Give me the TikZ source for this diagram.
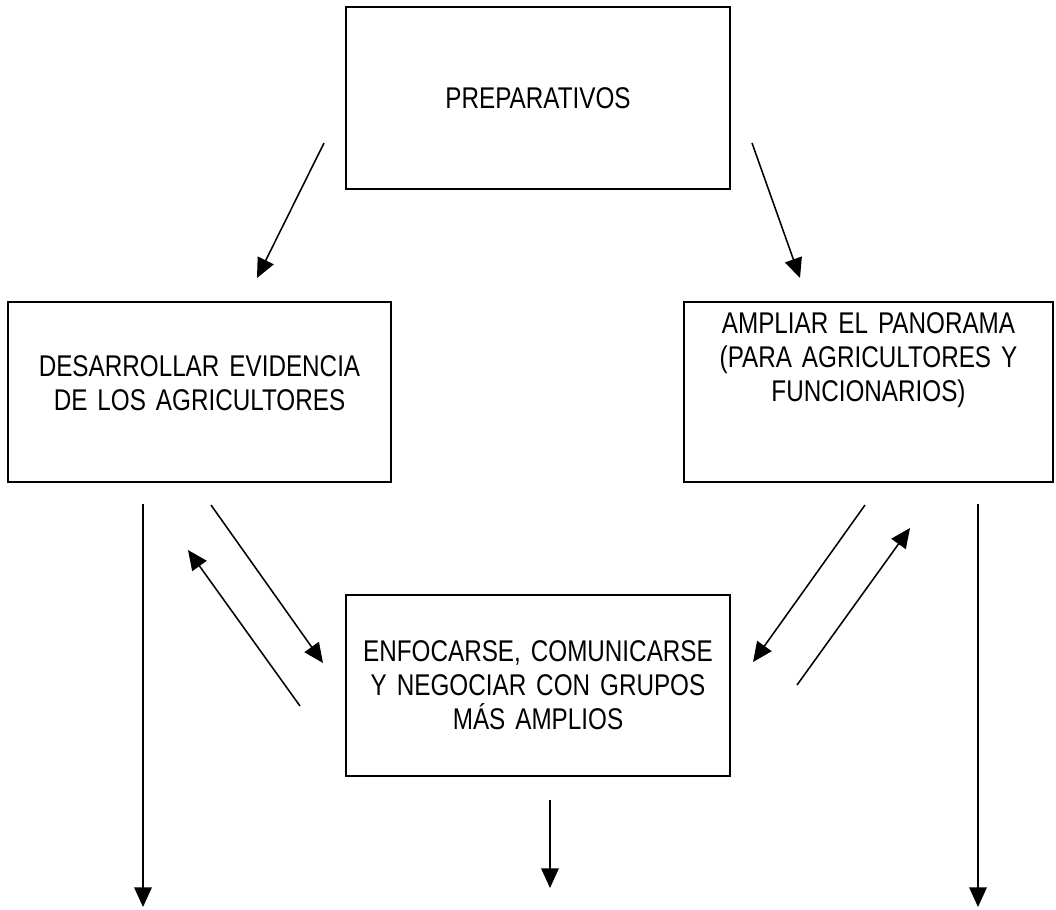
\documentclass[tikz,border=0pt]{standalone}
\usepackage{fontspec}
\setmainfont{Liberation Sans}[FakeStretch=0.81]
\usepackage{tikz}
\usetikzlibrary{arrows.meta}
\tikzset{
  box/.style  = {draw, rectangle, line width=1.3pt, inner sep=0pt, align=center,
                 text width=8.8cm, font=\fontsize{21.3pt}{24.2pt}\selectfont},
  flow/.style = {-{Triangle[length=14pt,width=12.5pt]}, line width=1.1pt}
}
\begin{document}
\begin{tikzpicture}[x=0.025cm, y=-0.025cm]
    \useasboundingbox (0,0) rectangle (1056,909);
    \node[box, minimum width=9.6cm, minimum height=4.55cm] (P) at (538,98) {PREPARATIVOS};
    \node[box, minimum width=9.575cm, minimum height=4.5cm] (E) at (199.5,392)
        {DESARROLLAR EVIDENCIA\\DE LOS AGRICULTORES\\[-11pt]\mbox{}};
    \node[box, minimum width=9.225cm, minimum height=4.5cm] (A) at (868.5,392)
        {AMPLIAR EL PANORAMA\\(PARA AGRICULTORES Y\\FUNCIONARIOS)\\[25pt]\mbox{}};
    \node[box, minimum width=9.6cm, minimum height=4.525cm] (G) at (538,685.5)
        {ENFOCARSE, COMUNICARSE\\Y NEGOCIAR CON GRUPOS\\MÁS AMPLIOS};
    % arrow ends
    \coordinate (p1) at (324,143);  \coordinate (p2) at (257,278);
    \coordinate (p3) at (752,143);  \coordinate (p4) at (800,278);
    \coordinate (e1) at (211,505);  \coordinate (e2) at (323,663);
    \coordinate (e3) at (300,706);  \coordinate (e4) at (188,550);
    \coordinate (a1) at (865,505);  \coordinate (a2) at (753,662);
    \coordinate (a3) at (797,685);  \coordinate (a4) at (910,528);
    \coordinate (v1) at (143,504);  \coordinate (v2) at (143,907);
    \coordinate (v3) at (550,800);  \coordinate (v4) at (550,888);
    \coordinate (v5) at (978,504);  \coordinate (v6) at (978,907);
    \draw[flow] (p1) -- (p2);
    \draw[flow] (p3) -- (p4);
    \draw[flow] (e1) -- (e2);
    \draw[flow] (e3) -- (e4);
    \draw[flow] (a1) -- (a2);
    \draw[flow] (a3) -- (a4);
    \draw[flow] (v1) -- (v2);
    \draw[flow] (v3) -- (v4);
    \draw[flow] (v5) -- (v6);
\end{tikzpicture}
\end{document}
